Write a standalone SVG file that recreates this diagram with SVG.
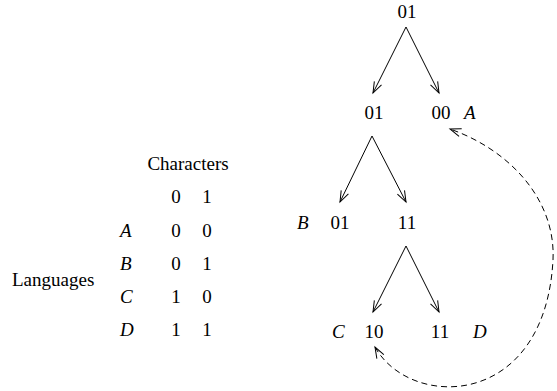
<svg xmlns="http://www.w3.org/2000/svg" width="557" height="391" viewBox="0 0 557 391">
  <style>
    text { font-family: "Liberation Serif", "Times New Roman", serif; font-size: 19px; fill: #000; }
    .c { text-anchor: middle; }
    .i { font-style: italic; }
    .edge { fill: none; stroke: #000; stroke-width: 1; }
    .dash { stroke-dasharray: 6 4; }
  </style>
  <defs>
    <marker id="arrow" viewBox="-12 -6 14 12" refX="0" refY="0" markerWidth="14" markerHeight="12" markerUnits="userSpaceOnUse" orient="auto-start-reverse">
      <path d="M-11,-4 L0,0 L-11,4" fill="none" stroke="#000" stroke-width="1"/>
    </marker>
  </defs>

  <!-- character table -->
  <g id="table">
    <text x="188" y="170" class="c">Characters</text>
    <text x="176" y="203" class="c">0</text><text x="207" y="203" class="c">1</text>
    <text x="120" y="237" class="i">A</text>
    <text x="176" y="237" class="c">0</text><text x="207" y="237" class="c">0</text>
    <text x="120" y="270" class="i">B</text>
    <text x="176" y="270" class="c">0</text><text x="207" y="270" class="c">1</text>
    <text x="12" y="286">Languages</text>
    <text x="120" y="303" class="i">C</text>
    <text x="176" y="303" class="c">1</text><text x="207" y="303" class="c">0</text>
    <text x="120" y="336" class="i">D</text>
    <text x="176" y="336" class="c">1</text><text x="207" y="336" class="c">1</text>
  </g>

  <!-- tree nodes -->
  <g id="n-root"><text x="407" y="18" class="c">01</text></g>
  <g id="n-l"><text x="374" y="119" class="c">01</text></g>
  <g id="n-r"><text x="441" y="119" class="c">00</text><text x="464" y="119" class="i">A</text></g>
  <g id="n-ll"><text x="297" y="229" class="i">B</text><text x="340" y="229" class="c">01</text></g>
  <g id="n-lr"><text x="407" y="229" class="c">11</text></g>
  <g id="n-lrl"><text x="332" y="338" class="i">C</text><text x="374" y="338" class="c">10</text></g>
  <g id="n-lrr"><text x="440" y="338" class="c">11</text><text x="473" y="338" class="i">D</text></g>

  <!-- connectors -->
  <g id="edges">
    <line class="edge" x1="406" y1="27" x2="373" y2="93" marker-end="url(#arrow)"/>
    <line class="edge" x1="406" y1="27" x2="439" y2="93" marker-end="url(#arrow)"/>
    <line class="edge" x1="372" y1="136" x2="340" y2="202" marker-end="url(#arrow)"/>
    <line class="edge" x1="372" y1="136" x2="406" y2="202" marker-end="url(#arrow)"/>
    <line class="edge" x1="406" y1="246" x2="373" y2="312" marker-end="url(#arrow)"/>
    <line class="edge" x1="406" y1="246" x2="439" y2="312" marker-end="url(#arrow)"/>
    <path class="edge dash" d="M375,347 C410,410 545,410 553,260 C556,200 510,150 450,129" marker-start="url(#arrow)" marker-end="url(#arrow)"/>
  </g>
</svg>
